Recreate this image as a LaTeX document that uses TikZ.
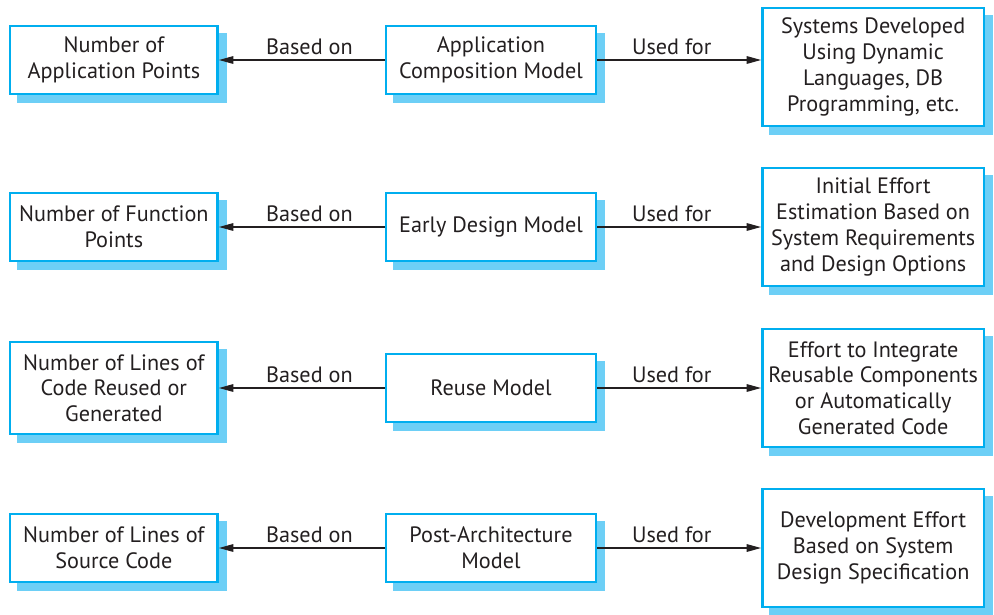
\documentclass[tikz,border=0pt]{standalone}
\usepackage{fontspec}
\setmainfont{PT Sans}
\usepackage{xcolor}
\usetikzlibrary{arrows.meta,positioning,shadows}
\definecolor{boxblue}{HTML}{00AEEF}
\definecolor{shadeblue}{HTML}{6DCFF6}
\definecolor{ink}{HTML}{231F20}

\begin{document}
\begin{tikzpicture}[
  n/.style={draw=boxblue, line width=1.8pt, fill=white, align=center, text=ink, font=\fontsize{15.8}{18.3}\selectfont, inner sep=3pt, minimum height=1.69cm,
    drop shadow={shadow xshift=0.2cm, shadow yshift=-0.2cm, fill=shadeblue, draw=shadeblue, opacity=1}},
  lft/.style={minimum width=5.19cm},
  mid/.style={minimum width=5.24cm},
  rgt/.style={minimum width=5.54cm, minimum height=2.94cm},
  arr/.style={-{Triangle[length=0.36cm, width=0.19cm]}, line width=0.85pt, draw=ink},
  lbl/.style={above, pos=0.455, text=ink, font=\fontsize{15.8}{18.3}\selectfont}
]
\useasboundingbox (0,0) rectangle (24.85,-15.35);
% row 1
\node[n, mid] (m1) at (12.275,-1.5) {Application\\Composition Model};
\node[n, lft, left=4.15cm of m1] (l1) {Number of\\Application Points};
\node[n, rgt, right=4.1cm of m1, yshift=-0.175cm] (r1) {Systems Developed\\Using Dynamic\\Languages, DB\\Programming, etc.};
% row 2
\node[n, mid] (m2) at (12.275,-5.675) {Early Design Model};
\node[n, lft, left=4.15cm of m2] (l2) {Number of Function\\Points};
\node[n, rgt, right=4.1cm of m2] (r2) {Initial Effort\\Estimation Based on\\System Requirements\\and Design Options};
% row 3
\node[n, mid] (m3) at (12.275,-9.7) {Reuse Model};
\node[n, lft, minimum height=2.29cm, left=4.15cm of m3] (l3) {Number of Lines of\\Code Reused or\\Generated};
\node[n, rgt, right=4.1cm of m3] (r3) {Effort to Integrate\\Reusable Components\\or Automatically\\Generated Code};
% row 4
\node[n, mid] (m4) at (12.275,-13.7) {Post-Architecture\\Model};
\node[n, lft, left=4.15cm of m4] (l4) {Number of Lines of\\Source Code};
\node[n, rgt, right=4.1cm of m4] (r4) {Development Effort\\Based on System\\Design Specification};

\draw[arr] (m1.west) -- node[lbl]{Based on} (l1.east);
\draw[arr] (m1.east) -- node[lbl]{Used for} (m1.east -| r1.west);
\draw[arr] (m2.west) -- node[lbl]{Based on} (l2.east);
\draw[arr] (m2.east) -- node[lbl]{Used for} (r2.west);
\draw[arr] (m3.west) -- node[lbl]{Based on} (l3.east);
\draw[arr] (m3.east) -- node[lbl]{Used for} (r3.west);
\draw[arr] (m4.west) -- node[lbl]{Based on} (l4.east);
\draw[arr] (m4.east) -- node[lbl]{Used for} (r4.west);
\end{tikzpicture}
\end{document}
